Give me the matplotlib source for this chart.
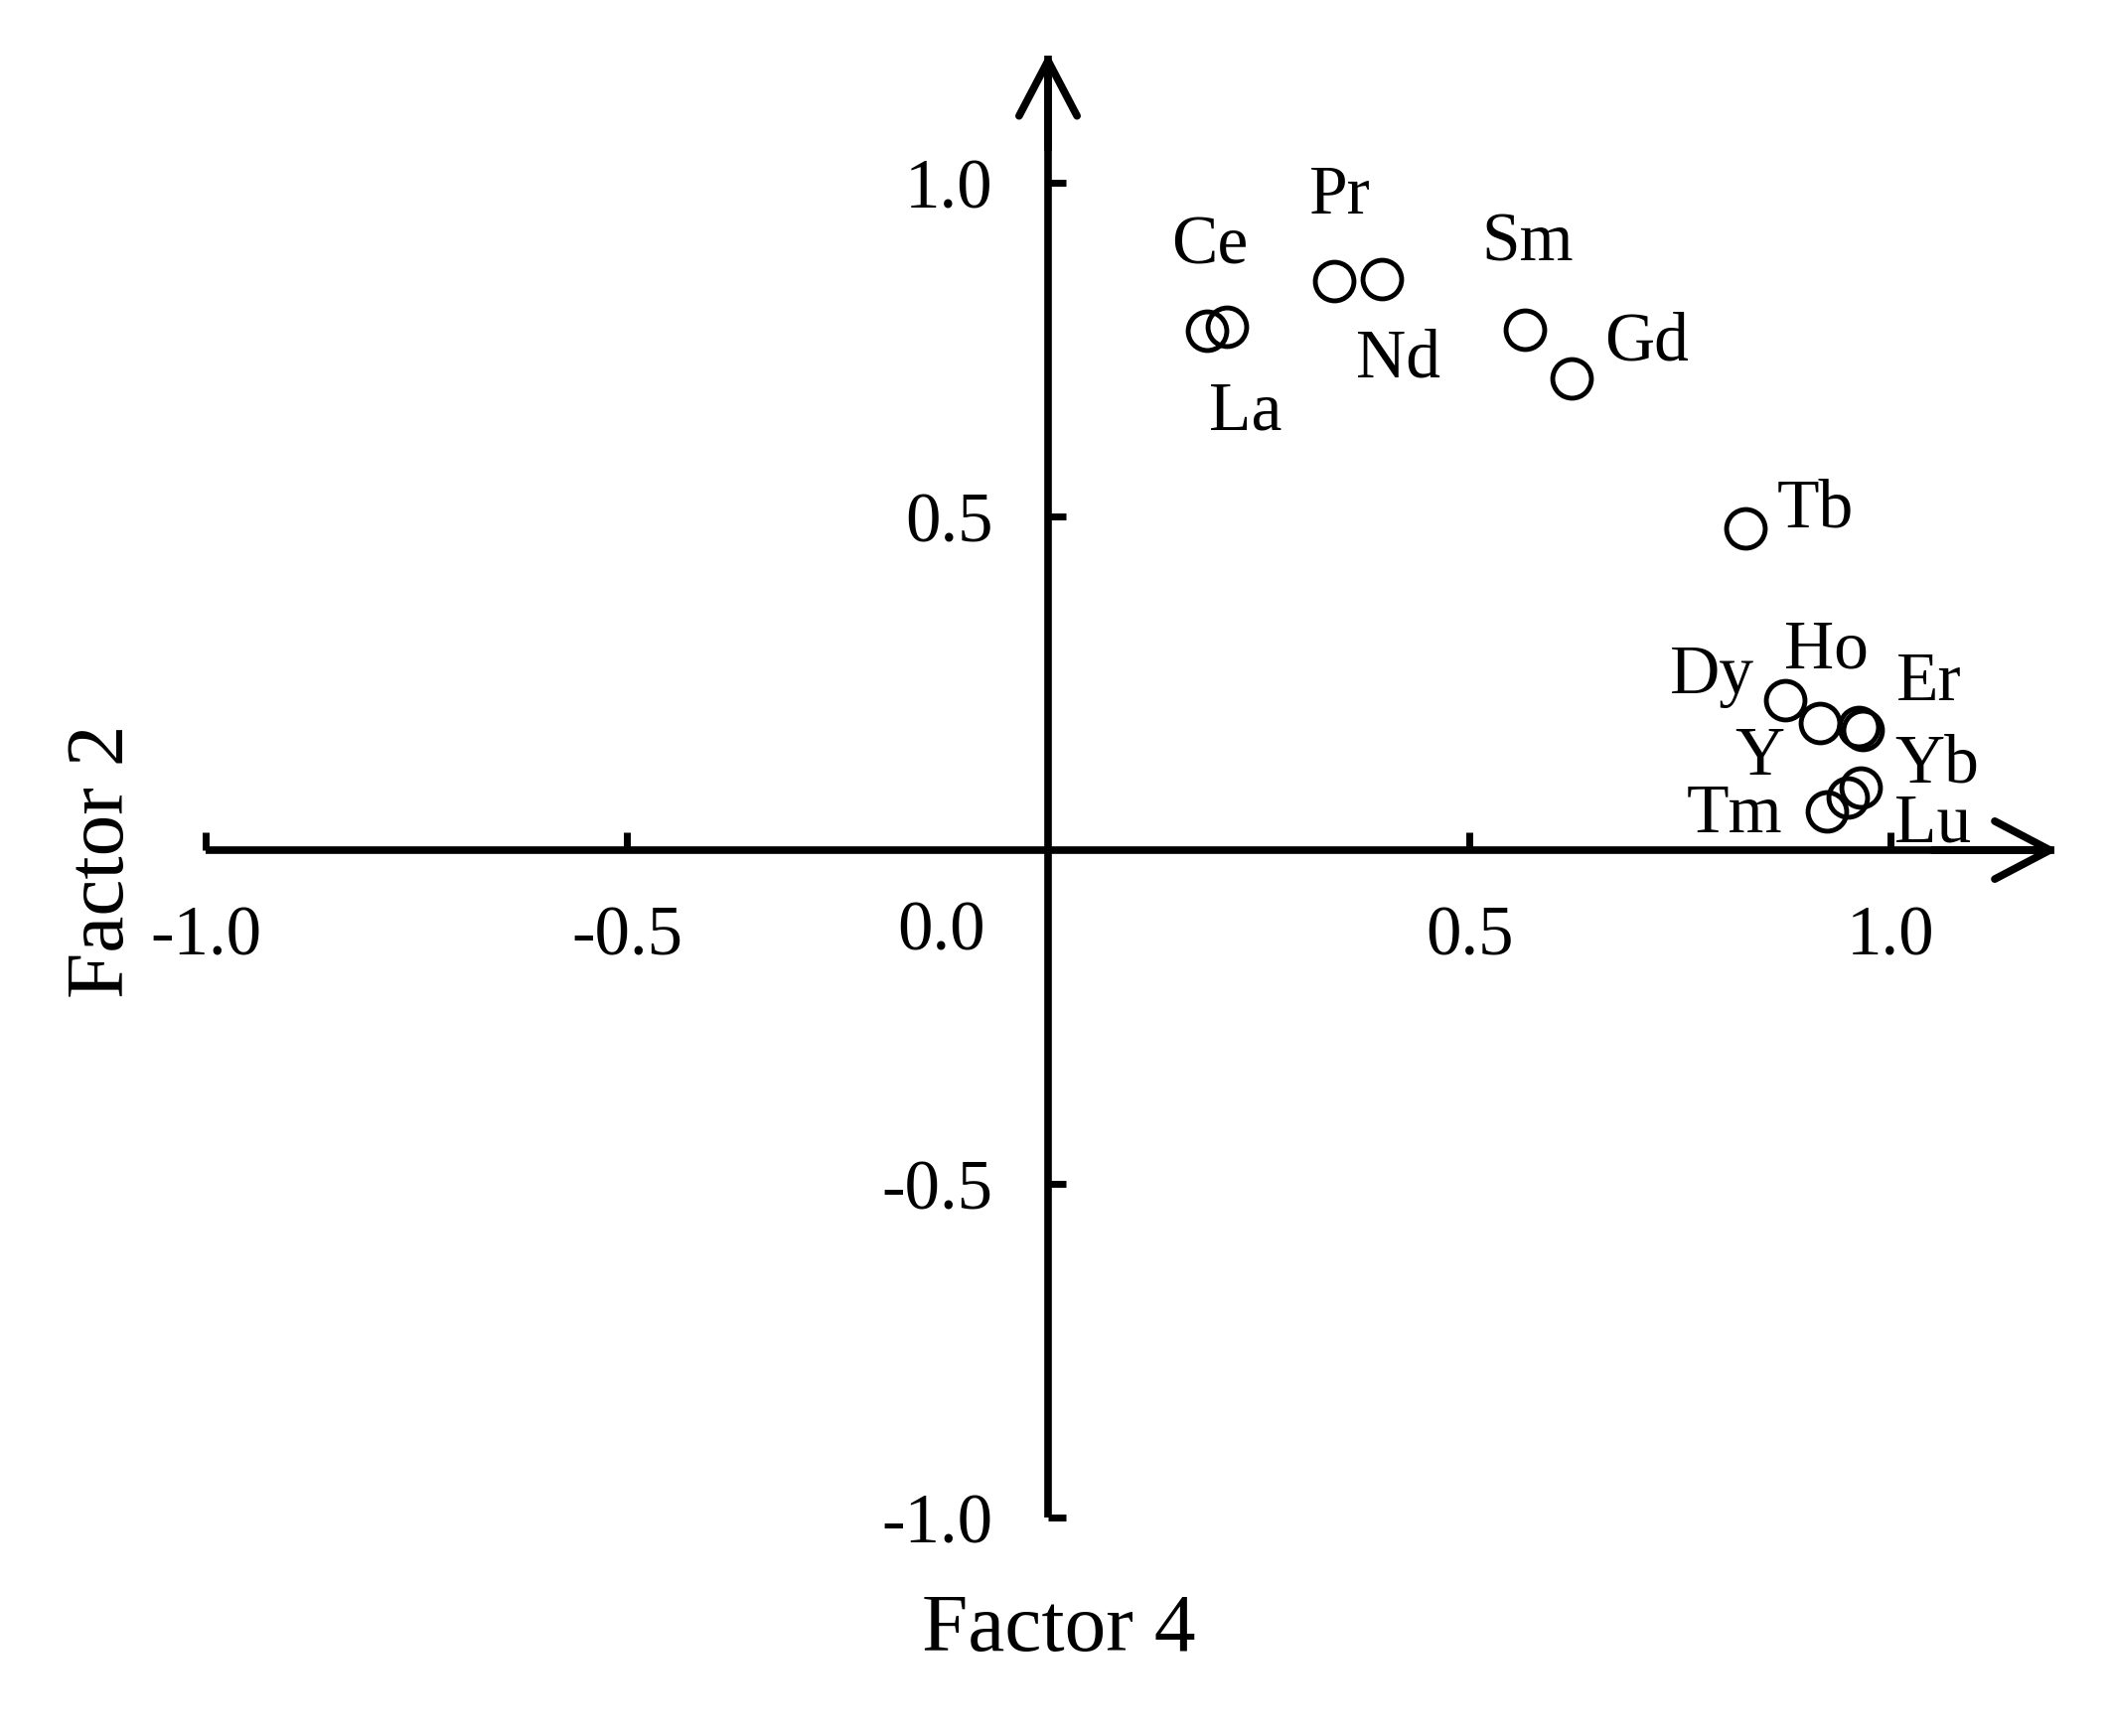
import numpy as np
import matplotlib
matplotlib.use("Agg")
import matplotlib.pyplot as plt

plt.rcParams['font.family'] = ['Liberation Serif', 'DejaVu Serif']

# factor loadings
elements = ['La', 'Ce', 'Pr', 'Nd', 'Sm', 'Gd', 'Tb', 'Dy', 'Ho', 'Er', 'Y', 'Yb', 'Lu', 'Tm']
factor4 = [0.189, 0.212, 0.340, 0.396, 0.566, 0.621, 0.828, 0.875, 0.962, 0.967, 0.916, 0.965, 0.949, 0.925]
factor2 = [0.778, 0.784, 0.853, 0.856, 0.780, 0.707, 0.482, 0.225, 0.184, 0.180, 0.190, 0.094, 0.079, 0.058]

xticks = [-1.0, -0.5, 0.5, 1.0]
yticks = [-1.0, -0.5, 0.5, 1.0]

# label offsets in pixels (dx, dy) from each marker, baseline anchored
label_off = {
    'La': (38, -99), 'Ce': (-17, 64), 'Pr': (5, 68), 'Nd': (17, -99),
    'Sm': (3, 69), 'Gd': (76, 18), 'Tb': (70, 2), 'Dy': (-74, 7),
    'Ho': (-32, 60), 'Er': (67, 30), 'Y': (-60, -52), 'Yb': (76, 5),
    'Lu': (86, -45), 'Tm': (-93, -21),
}

W, H = 2125, 1748
fig = plt.figure(figsize=(W / 100, H / 100), dpi=100)
ax = fig.add_axes([0, 0, 1, 1])

# pixel geometry: origin at (1055, 856), 848 px per x unit, 672 px per y unit
x0, y0, sx, sy = 1055, 856, 848, 672
ax.set_xlim(-x0 / sx, (W - x0) / sx)
ax.set_ylim(-(H - y0) / sy, y0 / sy)

lw = 5.5
for side in ['top', 'right']:
    ax.spines[side].set_visible(False)
ax.spines['bottom'].set_position(('data', 0))
ax.spines['left'].set_position(('data', 0))
ax.spines['bottom'].set_bounds(-1.0, 1.195)
ax.spines['left'].set_bounds(-1.0, 1.19)
ax.spines['bottom'].set_linewidth(lw)
ax.spines['left'].set_linewidth(lw)
ax.spines['bottom'].set_capstyle('butt')
ax.spines['left'].set_capstyle('butt')

ax.set_xticks(xticks)
ax.set_xticklabels(['%.1f' % v for v in xticks])
ax.set_yticks(yticks)
ax.set_yticklabels(['%.1f' % v for v in yticks])
ax.tick_params(axis='both', direction='in', length=13, width=5, labelsize=51)
ax.tick_params(axis='x', pad=40)
ax.tick_params(axis='y', pad=40)
ax.annotate('0.0', xy=(0, 0), xytext=(-107, -83), textcoords='offset pixels',
            ha='center', va='center', fontsize=51)

# arrow heads
arrow = dict(arrowstyle='->,head_length=40,head_width=21', lw=lw, color='black',
             mutation_scale=1, shrinkA=0, shrinkB=0)
ax.annotate('', xy=(1.199, 0), xytext=(1.05, 0), arrowprops=arrow)
ax.annotate('', xy=(0, 1.195), xytext=(0, 1.05), arrowprops=arrow)

ax.plot(factor4, factor2, 'o', markersize=28, markerfacecolor='none',
        markeredgecolor='black', markeredgewidth=3.5, linestyle='none')

for name, fx, fy in zip(elements, factor4, factor2):
    dx, dy = label_off[name]
    ax.annotate(name, xy=(fx, fy), xytext=(dx, dy), textcoords='offset pixels',
                ha='center', va='baseline', fontsize=50)

fig.text(1066 / W, 1 - 1642 / H, 'Factor 4', ha='center', va='center', fontsize=60)
fig.text(104 / W, 1 - 867 / H, 'Factor 2', ha='center', va='center', fontsize=60,
         rotation=90)

fig.savefig('out.png', dpi=100, facecolor='white')
